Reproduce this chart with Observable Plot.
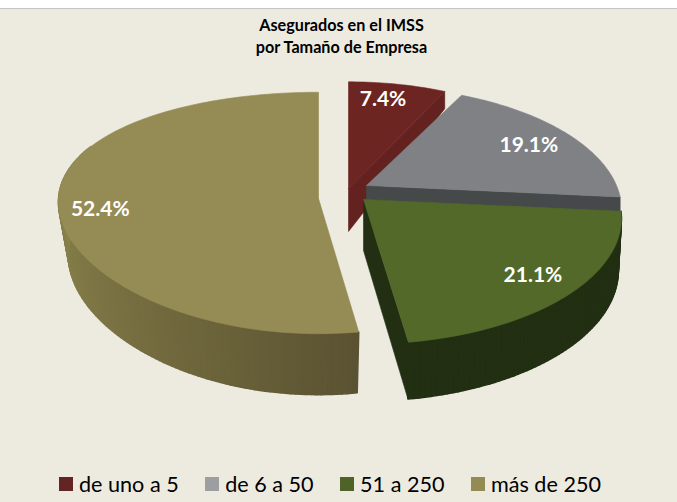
<!DOCTYPE html>
<html lang="es">
<head>
<meta charset="utf-8">
<script src="https://cdn.jsdelivr.net/npm/d3@7"></script>
<script src="https://cdn.jsdelivr.net/npm/@observablehq/plot@0.6"></script>
<style>
  html, body { margin: 0; padding: 0; }
  body { width: 677px; height: 502px; overflow: hidden; background: #edebe0; font-family: Lato, sans-serif; }
  #strip { height: 8px; background: #fff; border-bottom: 1px solid #c4c4c4; }
  #title { height: 47px; box-sizing: border-box; padding-top: 5px; text-align: center; font-weight: 700; font-size: 16.2px; line-height: 22px; color: #000; padding-left: 6px; }
  #chart svg { display: block; background: transparent; }
  #legend { position: absolute; top: 466px; left: 59px; display: flex; align-items: center; height: 36px; font-size: 21.6px; color: #000; white-space: nowrap; }
  #legend .key { width: 14px; height: 14px; margin-right: 6px; }
  #legend .item { display: flex; align-items: center; margin-right: 26.5px; }
</style>
</head>
<body>
<div id="strip"></div>
<div id="title">Asegurados en el IMSS<br>por Tamaño de Empresa</div>
<div id="chart"></div>
<div id="legend"></div>
<script>
const categories = ["de uno a 5", "de 6 a 50", "51 a 250", "más de 250"];
const shares = [7.4, 19.1, 21.1, 52.4];
const labels = ["7.4%", "19.1%", "21.1%", "52.4%"];

const topColors = ["#6d2522", "#7f8184", "#53692a", "#958b54"];
const wallColors = ["#632120", "#45494a", "#222f12", "#5a5232"];
const legendColors = ["#632523", "#9c9ea1", "#4f6228", "#948a54"];

// Exploded, perspective view of each slice: apex, radii and foreshortening of top and bottom faces.
const views = [
  {ax: 348, ay: 188, rx: 253, ry: 128, p: 0.2,  px: 0.2,  by: 231, brx: 253, bry: 162, labelR: 0.85, labelDx: -8, labelDy: 2},
  {ax: 366, ay: 185, rx: 250, ry: 119, p: 0.2,  px: 0.2,  by: 232, brx: 250, bry: 119, labelR: 0.8, labelDx: 0, labelDy: 3},
  {ax: 363, ay: 199, rx: 255, ry: 123, p: 0.15, px: 0.15, by: 250, brx: 252, bry: 128, labelR: 0.84, labelDx: -1, labelDy: -2},
  {ax: 318, ay: 198, rx: 260, ry: 119, p: 0.12, px: 0.03, by: 251, brx: 250, bry: 126, labelR: 0.84, labelDx: 0, labelDy: 3}
];

const cumulative = d3.cumsum(shares);
const total = cumulative[cumulative.length - 1];
const slices = shares.map((s, i) => ({
  i,
  start: ((cumulative[i] - s) / total) * 2 * Math.PI,
  end: (cumulative[i] / total) * 2 * Math.PI,
  view: views[i]
}));

function project(v, theta, r, bottom) {
  const a = r * Math.sin(theta), b = r * Math.cos(theta);
  const k = 1 / (1 + v.p * b), kx = 1 / (1 + v.px * b);
  return bottom
    ? {x: v.ax + v.brx * a * kx, y: v.by - v.bry * b * k}
    : {x: v.ax + v.rx * a * kx, y: v.ay - v.ry * b * k};
}
function arc(v, t0, t1, bottom) {
  const n = Math.max(2, Math.ceil(Math.abs(t1 - t0) / 0.02));
  return d3.range(n + 1).map(j => project(v, t0 + (t1 - t0) * j / n, 1, bottom));
}
function polygon(points, color, sw = 0.6) {
  return Plot.line([...points, points[0]], {x: "x", y: "y", fill: color, stroke: color, strokeWidth: sw, curve: "linear"});
}
const topFace = (s, color) => polygon([project(s.view, 0, 0, false), ...arc(s.view, s.start, s.end, false)], color);
const apex = (v, bottom) => project(v, 0, 0, bottom);

// Straight cut wall running from apex to rim at angle theta.
function cutWall(s, theta, color) {
  return polygon([apex(s.view, false), project(s.view, theta, 1, false), project(s.view, theta, 1, true), apex(s.view, true)], color);
}
// Curved rim wall, cut in small quads so that its shade can vary around the rim.
function rimWall(s, t0, t1, shade) {
  const n = Math.ceil((t1 - t0) / 0.02);
  return d3.range(n).map(j => {
    const a = t0 + (t1 - t0) * j / n, b = t0 + (t1 - t0) * (j + 1) / n;
    return polygon([project(s.view, a, 1, false), project(s.view, b, 1, false), project(s.view, b, 1, true), project(s.view, a, 1, true)], shade((j + 0.5) / n), 1.5);
  });
}

const [red, gray, green, tan] = slices;
const tanShade = d3.interpolateRgbBasis(["#5a5232", "#6b6339", "#7b7344", "#868049", "#8a8450"]);
const labelPoints = slices.map(s => {
  const p = project(s.view, (s.start + s.end) / 2, s.view.labelR, false);
  return {x: p.x + s.view.labelDx, y: p.y + s.view.labelDy, text: labels[s.i]};
});

const plot = Plot.plot({
  width: 677,
  height: 410,
  margin: 0,
  x: {axis: null, domain: [0, 677]},
  y: {axis: null, domain: [466, 56]},
  marks: [
    cutWall(red, red.end, wallColors[0]),
    topFace(red, topColors[0]),
    cutWall(gray, gray.end, wallColors[1]),
    topFace(gray, topColors[1]),
    ...rimWall(tan, tan.start, tan.start + 2.2, tanShade),
    topFace(tan, topColors[3]),
    cutWall(green, green.end, wallColors[2]),
    ...rimWall(green, green.start, green.end, () => wallColors[2]),
    topFace(green, topColors[2]),
    Plot.text(labelPoints, {x: "x", y: "y", text: "text", fill: "#fff", fontSize: 21, fontWeight: 700, fontFamily: "Lato, sans-serif"})
  ]
});
document.getElementById("chart").append(plot);

const legend = d3.select("#legend");
categories.forEach((c, i) => {
  const item = legend.append("div").attr("class", "item");
  item.append("div").attr("class", "key").style("background", legendColors[i]);
  item.append("span").text(c);
});
</script>
</body>
</html>
